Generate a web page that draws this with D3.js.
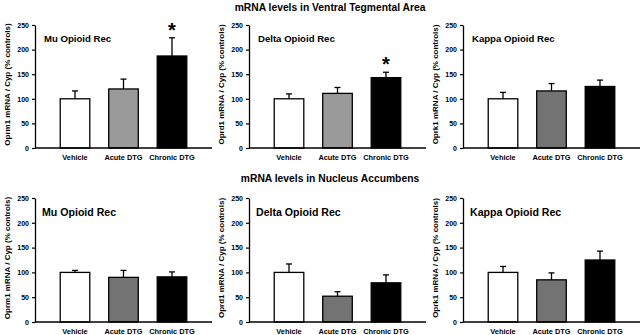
<!DOCTYPE html>
<html>
<head>
<meta charset="utf-8">
<script src="https://cdn.jsdelivr.net/npm/d3@7"></script>
<style>
  body { margin: 0; background: #fff; }
  svg { display: block; font-family: "Liberation Sans", Arial, sans-serif; font-weight: bold; }
</style>
</head>
<body>
<svg id="chart"></svg>
<script>
// data
const groups = ["Vehicle", "Acute DTG", "Chronic DTG"];
const receptors = ["Mu Opioid Rec", "Delta Opioid Rec", "Kappa Opioid Rec"];
const genes = ["Oprm1", "Oprd1", "Oprk1"];
const regionTitles = ["mRNA levels in Ventral Tegmental Area", "mRNA levels in Nucleus Accumbens"];
const yTicks = [0, 50, 100, 150, 200, 250];

const vtaMeans  = [[100, 120, 187], [100, 111, 143], [100, 116, 125]];
const vtaErrors = [[16, 20, 37], [10, 12, 11], [13, 15, 13]];
const vtaStars  = [[false, false, true], [false, false, true], [false, false, false]];

const nacMeans  = [[100, 90, 91], [100, 52, 79], [100, 85, 125]];
const nacErrors = [[4, 14, 10], [17, 9, 16], [12, 14, 18]];
const nacStars  = [[false, false, false], [false, false, false], [false, false, false]];

const rows = [
    { title: regionTitles[0], means: vtaMeans, errors: vtaErrors, stars: vtaStars },
    { title: regionTitles[1], means: nacMeans, errors: nacErrors, stars: nacStars }
];

// layout
const width = 642, height = 335;
const axisX = [35, 249, 463];
const plotW = 177;
const rowTop = [25, 198];
const rowBase = [148, 322];
const titleY = [11, 182];
const panelFont = [9.6, 10.6];
const acuteFill = [["#9a9a9a", "#9a9a9a", "#737373"], ["#737373", "#737373", "#737373"]];
const groupFill = (r, p, i) => i === 0 ? "#ffffff" : i === 1 ? acuteFill[r][p] : "#000000";

const svg = d3.select("#chart").attr("width", width).attr("height", height);

const scaleX = d3.scaleBand().domain(groups).range([0, plotW])
    .paddingInner(0.39).paddingOuter(0.52);

rows.forEach((row, r) => {
    svg.append("text")
        .attr("x", 330)
        .attr("y", titleY[r])
        .attr("text-anchor", "middle")
        .style("font-size", "10.3px")
        .text(row.title);

    const scaleY = d3.scaleLinear().domain([0, 250]).range([rowBase[r], rowTop[r]]);

    receptors.forEach((rec, p) => {
        const g = svg.append("g").attr("transform", `translate(${axisX[p]},0)`);

        // bars
        g.selectAll("rect.bar")
            .data(groups)
            .enter()
            .append("rect")
            .attr("class", "bar")
            .attr("x", d => scaleX(d))
            .attr("y", (d, i) => scaleY(row.means[p][i]))
            .attr("width", scaleX.bandwidth())
            .attr("height", (d, i) => scaleY(0) - scaleY(row.means[p][i]))
            .attr("fill", (d, i) => groupFill(r, p, i))
            .attr("stroke", "#000")
            .attr("stroke-width", 1.3);

        // upper error bars
        groups.forEach((d, i) => {
            const cx = scaleX(d) + scaleX.bandwidth() / 2;
            const top = scaleY(row.means[p][i] + row.errors[p][i]);
            g.append("line")
                .attr("x1", cx).attr("x2", cx)
                .attr("y1", scaleY(row.means[p][i])).attr("y2", top)
                .attr("stroke", "#000").attr("stroke-width", 1.3);
            g.append("line")
                .attr("x1", cx - 3).attr("x2", cx + 3)
                .attr("y1", top).attr("y2", top)
                .attr("stroke", "#000").attr("stroke-width", 1.3);
            if (row.stars[p][i]) {
                g.append("text")
                    .attr("x", cx)
                    .attr("y", top - 1)
                    .attr("text-anchor", "middle")
                    .style("font-size", "20px")
                    .text("*");
            }
        });

        // y axis
        const gy = g.append("g")
            .call(d3.axisLeft(scaleY).tickValues(yTicks).tickSize(3).tickPadding(3).tickSizeOuter(0));
        gy.select(".domain").attr("stroke-width", 1.3);
        gy.selectAll(".tick line").attr("stroke-width", 1.2);
        gy.selectAll("text").style("font-size", "7px").style("font-family", "inherit");

        // x axis line
        g.append("line")
            .attr("x1", 0).attr("x2", plotW)
            .attr("y1", scaleY(0)).attr("y2", scaleY(0))
            .attr("stroke", "#000").attr("stroke-width", 1.3);

        // category labels
        g.selectAll("text.cat")
            .data(groups)
            .enter()
            .append("text")
            .attr("class", "cat")
            .attr("x", d => scaleX(d) + scaleX.bandwidth() / 2)
            .attr("y", scaleY(0) + 12)
            .attr("text-anchor", "middle")
            .style("font-size", "7.4px")
            .text(d => d);

        // panel title
        g.append("text")
            .attr("x", r === 0 ? 9 : 7)
            .attr("y", (r === 0 ? 42 : 216))
            .style("font-size", panelFont[r] + "px")
            .text(rec);

        // y label
        g.append("text")
            .attr("transform", `translate(-25,${(rowTop[r] + rowBase[r]) / 2 - 2}) rotate(-90)`)
            .attr("text-anchor", "middle")
            .style("font-size", "8px")
            .text(`${genes[p]} mRNA / Cyp (% controls)`);
    });
});
</script>
</body>
</html>
